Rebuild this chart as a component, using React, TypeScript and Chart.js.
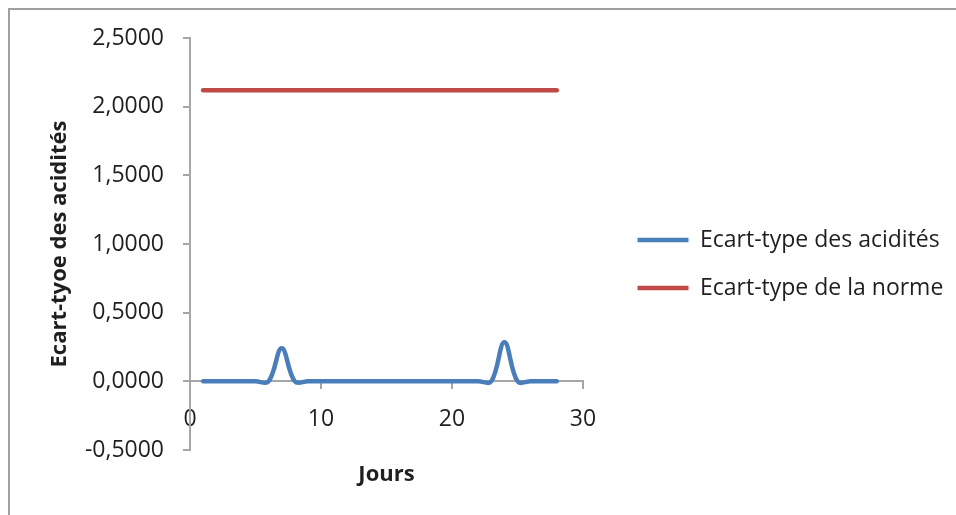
import { useEffect, useRef } from 'react';
import { Chart, registerables } from 'chart.js';

Chart.register(...registerables);

// Days of the month on which the acidity spread was measured
const DAYS = [1, 2, 3, 4, 5, 6, 7, 8, 9, 10, 11, 12, 13, 14, 15, 16, 17, 18, 19, 20, 21, 22, 23, 24, 25, 26, 27, 28];

// Standard deviation of the measured acidities, per day
const ACIDITY_SD = [0, 0, 0, 0, 0, 0, 0.24, 0, 0, 0, 0, 0, 0, 0, 0, 0, 0, 0, 0, 0, 0, 0, 0, 0.285, 0, 0, 0, 0];

// Standard deviation allowed by the norm, per day
const NORM_SD = [
  2.12, 2.12, 2.12, 2.12, 2.12, 2.12, 2.12, 2.12, 2.12, 2.12, 2.12, 2.12, 2.12, 2.12,
  2.12, 2.12, 2.12, 2.12, 2.12, 2.12, 2.12, 2.12, 2.12, 2.12, 2.12, 2.12, 2.12, 2.12,
];

const SERIES_NAMES = ['Ecart-type des acidités', 'Ecart-type de la norme'];
const X_TICKS = [0, 10, 20, 30];
const Y_TICKS = [-0.5, 0, 0.5, 1, 1.5, 2, 2.5];
const X_TITLE = 'Jours';
const Y_TITLE = 'Ecart-tyoe des acidités';

const FONT_FAMILY = '"Open Sans", "Liberation Sans", sans-serif';
const TEXT_COLOR = '#1f1f1f';
const AXIS_COLOR = '#a6a6a6';
const BLUE = '#4A7EBB';
const RED = '#BE4B48';

const CANVAS_W = 946;
const CANVAS_H = 505;
const TICK_FONT = 23;
const TITLE_FONT = 22;
const LEGEND_FONT = 23;
const LEGEND_PAD = 25;
const LEGEND_LINE_W = 51;

// plot box inside the canvas
const AREA_LEFT = 180;
const AREA_RIGHT = 573;
const AREA_TOP = 28;
const AREA_BOTTOM = 440;

// legend placement
const LEGEND_ITEM_X = 627.5;
const LEGEND_DY = 20;
// the legend box reserves a little more than its line + text
const LEGEND_EXTRA = 10;

const formatFr = (v: number) => v.toFixed(4).replace('.', ',');

const legendPlacement = {
  id: 'legendPlacement',
  afterLayout(chart: any) {
    const lg = chart.legend;
    if (!lg) return;
    const dx = LEGEND_ITEM_X - LEGEND_PAD - lg.left;
    lg.left += dx;
    lg.right += dx;
    lg.top += LEGEND_DY;
    lg.bottom += LEGEND_DY;
  },
};

export default function App() {
  const canvasRef = useRef<HTMLCanvasElement | null>(null);

  useEffect(() => {
    const canvas = canvasRef.current;
    if (!canvas) return;
    const ctx = canvas.getContext('2d');
    if (!ctx) return;

    // width the legend will claim, so the plot box ends where wanted
    ctx.font = `${LEGEND_FONT}px ${FONT_FAMILY}`;
    const textW = Math.max(...SERIES_NAMES.map((n) => ctx.measureText(n).width));
    const legendW = LEGEND_PAD + LEGEND_LINE_W + LEGEND_FONT / 2 + textW + LEGEND_EXTRA;
    const padRight = CANVAS_W - AREA_RIGHT - legendW;

    const chart = new Chart(ctx, {
      type: 'line',
      data: {
        datasets: [
          {
            label: SERIES_NAMES[0],
            data: DAYS.map((d, i) => ({ x: d, y: ACIDITY_SD[i] })),
            borderColor: BLUE,
            backgroundColor: BLUE,
            borderWidth: 4.5,
            pointRadius: 0,
            tension: 0.38,
            borderCapStyle: 'round',
            borderJoinStyle: 'round',
            fill: false,
          },
          {
            label: SERIES_NAMES[1],
            data: DAYS.map((d, i) => ({ x: d, y: NORM_SD[i] })),
            borderColor: RED,
            backgroundColor: RED,
            borderWidth: 4.5,
            pointRadius: 0,
            tension: 0.38,
            borderCapStyle: 'round',
            borderJoinStyle: 'round',
            fill: false,
          },
        ],
      },
      options: {
        animation: false,
        responsive: false,
        layout: {
          padding: { left: 0, top: AREA_TOP, right: padRight, bottom: CANVAS_H - AREA_BOTTOM },
        },
        scales: {
          x: {
            type: 'linear',
            position: { y: 0 } as any,
            min: X_TICKS[0],
            max: X_TICKS[X_TICKS.length - 1],
            afterBuildTicks: (scale: any) => {
              scale.ticks = X_TICKS.map((v) => ({ value: v }));
            },
            ticks: {
              color: TEXT_COLOR,
              font: { size: TICK_FONT, family: FONT_FAMILY },
              padding: 17,
              maxRotation: 0,
              autoSkip: false,
            },
            grid: {
              drawOnChartArea: false,
              drawTicks: true,
              tickLength: 7,
              color: AXIS_COLOR,
              lineWidth: 2,
            },
            border: { display: true, color: AXIS_COLOR, width: 2 },
            title: {
              display: true,
              text: X_TITLE,
              color: TEXT_COLOR,
              font: { size: TITLE_FONT, weight: 'bold', family: FONT_FAMILY },
              padding: { top: 12, bottom: 0 },
            },
          },
          y: {
            type: 'linear',
            position: 'left',
            min: Y_TICKS[0],
            max: Y_TICKS[Y_TICKS.length - 1],
            afterBuildTicks: (scale: any) => {
              scale.ticks = Y_TICKS.map((v) => ({ value: v }));
            },
            afterFit: (scale: any) => {
              scale.width = AREA_LEFT;
              scale.paddingTop = 0;
              scale.paddingBottom = 0;
            },
            ticks: {
              color: TEXT_COLOR,
              font: { size: TICK_FONT, family: FONT_FAMILY },
              padding: 19,
              callback: (v: any) => formatFr(Number(v)),
            },
            grid: {
              drawOnChartArea: false,
              drawTicks: true,
              tickLength: 7,
              color: AXIS_COLOR,
              lineWidth: 2,
            },
            border: { display: true, color: AXIS_COLOR, width: 2 },
            title: {
              display: true,
              text: Y_TITLE,
              color: TEXT_COLOR,
              font: { size: TITLE_FONT, weight: 'bold', family: FONT_FAMILY },
              padding: { top: 37, bottom: 0 },
            },
          },
        },
        plugins: {
          legend: {
            display: true,
            position: 'right',
            align: 'center',
            maxWidth: 600,
            labels: {
              color: TEXT_COLOR,
              font: { size: LEGEND_FONT, family: FONT_FAMILY },
              usePointStyle: true,
              pointStyle: 'line',
              pointStyleWidth: LEGEND_LINE_W,
              padding: LEGEND_PAD,
            },
          },
          tooltip: { enabled: false },
        },
      },
      plugins: [legendPlacement],
    } as any);

    return () => chart.destroy();
  }, []);

  return (
    <div
      style={{
        position: 'absolute',
        left: 8,
        top: 8,
        width: 948,
        height: 507,
        boxSizing: 'border-box',
        borderTop: '2px solid #a0a0a0',
        borderLeft: '2px solid #a0a0a0',
        background: '#ffffff',
      }}
    >
      <canvas ref={canvasRef} width={CANVAS_W} height={CANVAS_H} style={{ display: 'block' }} />
    </div>
  );
}
